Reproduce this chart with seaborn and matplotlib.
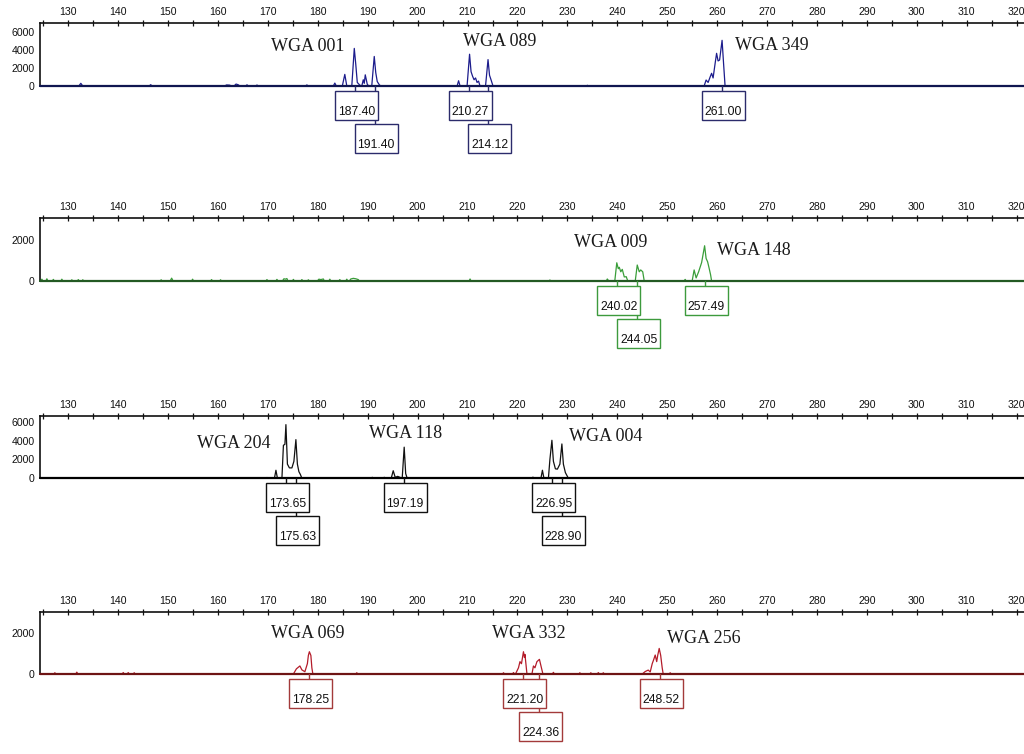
import matplotlib
matplotlib.use("Agg")
import matplotlib.pyplot as plt
from matplotlib.patches import Rectangle
from matplotlib.lines import Line2D
from matplotlib.ticker import MultipleLocator
from matplotlib.transforms import ScaledTranslation
import pandas as pd
import seaborn as sns

# =======================
# DATA
# =======================
X_MIN, X_MAX = 124.33, 321.5

# panel 1 - blue dye
trace1_size = [124.4, 132.1, 132.5, 132.9, 146.2, 146.5, 146.8, 161.3, 161.7, 162.3, 162.8,
               163.2, 163.6, 164.0, 164.4, 165.5, 165.8, 166.1, 167.5, 167.8, 168.1,
               177.5, 177.8, 178.1, 183.1, 183.4, 183.7, 184.9, 185.4, 185.8,
               186.8, 187.3, 187.6, 187.9, 188.4, 188.8, 189.1, 189.3, 189.5, 189.9, 190.2,
               190.8, 191.3, 191.6, 191.9, 192.3, 192.6,
               207.9, 208.2, 208.5, 209.9, 210.4, 210.7, 211.0, 211.3, 211.6, 211.9, 212.2, 212.5,
               213.6, 214.1, 214.4, 214.7, 215.1, 233.8, 234.0, 234.2,
               257.4, 257.8, 258.2, 258.6, 258.9, 259.2, 259.6, 259.9, 260.2, 260.5, 261.0, 261.3, 261.6,
               321.6]
trace1_rfu = [0, 0, 300, 0, 0, 150, 0, 0, 120, 100, 0,
              0, 220, 150, 0, 0, 130, 0, 0, 110, 0,
              0, 120, 0, 0, 330, 0, 0, 1300, 0,
              0, 4200, 2400, 400, 100, 0, 700, 300, 1250, 200, 0,
              0, 3300, 1500, 500, 150, 0,
              0, 590, 0, 0, 3550, 1600, 1100, 700, 900, 400, 550, 0,
              0, 2950, 1200, 700, 0, 0, 80, 0,
              0, 670, 400, 1000, 1420, 900, 2500, 3650, 2800, 2900, 5100, 2500, 0,
              0]
calls1 = [187.40, 191.40, 210.27, 214.12, 261.00]
rows1 = [0, 1, 0, 1, 0]
markers1 = ["WGA 001", "WGA 089", "WGA 349"]
markers1_x = [178.0, 216.5, 271.0]
markers1_y = [4360, 4970, 4470]

# panel 2 - green dye
trace2_size = [124.4, 124.7, 124.9, 125.5, 125.7, 125.9, 126.8, 127.0, 127.2, 128.5, 128.7, 128.9,
               130.5, 130.7, 130.9, 131.8, 132.0, 132.2, 132.7, 132.9, 133.1,
               148.4, 148.6, 148.8, 150.4, 150.7, 151.0, 154.7, 154.9, 155.1, 158.5, 158.7, 158.9,
               160.3, 160.5, 160.7, 169.6, 169.8, 170.0, 171.6, 171.8, 172.0, 172.9, 173.2, 173.5, 173.8, 174.0,
               174.9, 175.1, 175.3, 176.6, 176.8, 177.0, 177.9, 178.1, 178.3,
               179.9, 180.2, 180.6, 181.1, 181.3, 182.2, 182.4, 182.6, 184.2, 184.4, 184.6,
               185.6, 185.8, 186.0, 186.3, 186.6, 187.1, 187.6, 188.1, 188.3,
               210.3, 210.5, 210.7, 226.3, 226.5, 226.7,
               237.8, 238.0, 238.3, 239.5, 239.9, 240.2, 240.4, 240.7, 241.0, 241.4, 241.8, 242.1,
               243.6, 244.0, 244.4, 244.7, 245.1, 245.4, 253.4, 253.6, 253.8,
               255.0, 255.4, 255.8, 256.3, 256.9, 257.5, 257.8, 258.1, 258.4, 258.7, 258.9,
               321.6]
trace2_rfu = [0, 90, 0, 0, 110, 0, 0, 80, 0, 0, 90, 0,
              0, 60, 0, 0, 70, 0, 0, 60, 0,
              0, 60, 0, 0, 140, 0, 0, 90, 0, 0, 70, 0,
              0, 60, 0, 0, 70, 0, 0, 80, 0, 0, 110, 90, 120, 0,
              0, 80, 0, 0, 70, 0, 0, 60, 0,
              0, 90, 70, 100, 0, 0, 90, 0, 0, 70, 0,
              0, 90, 0, 0, 100, 130, 110, 70, 0,
              0, 100, 0, 0, 50, 0,
              0, 100, 0, 0, 890, 600, 670, 450, 570, 200, 210, 0,
              0, 780, 450, 540, 450, 0, 0, 80, 0,
              0, 540, 150, 450, 900, 1720, 1100, 940, 630, 300, 0,
              0]
calls2 = [240.02, 244.05, 257.49]
rows2 = [0, 1, 0]
markers2 = ["WGA 009", "WGA 148"]
markers2_x = [238.6, 267.4]
markers2_y = [1900, 1510]

# panel 3 - black dye
trace3_size = [124.4, 169.5, 169.8, 170.1, 171.3, 171.6, 171.9,
               172.8, 173.1, 173.4, 173.6, 173.9, 174.3, 174.8, 175.2, 175.6, 175.9, 176.2, 176.5, 176.8,
               190.7, 190.9, 191.1, 193.1, 193.3, 193.5,
               194.7, 195.1, 195.5, 196.0, 196.9, 197.3, 197.6, 197.9,
               222.9, 223.1, 223.3, 224.7, 225.0, 225.3,
               226.2, 226.5, 226.9, 227.2, 227.6, 228.0, 228.5, 228.9, 229.2, 229.6, 230.2,
               321.6]
trace3_rfu = [0, 0, 80, 0, 0, 850, 0,
              0, 3500, 3600, 5690, 1500, 1100, 1100, 1800, 4100, 1500, 700, 400, 0,
              0, 100, 0, 0, 100, 0,
              0, 800, 100, 200, 0, 3300, 500, 0,
              0, 120, 0, 0, 850, 0,
              0, 2000, 4030, 1800, 1000, 970, 1500, 3640, 1500, 600, 0,
              0]
calls3 = [173.65, 175.63, 197.19, 226.95, 228.90]
rows3 = [0, 1, 0, 0, 1]
markers3 = ["WGA 204", "WGA 118", "WGA 004"]
markers3_x = [163.2, 197.5, 237.6]
markers3_y = [3740, 4800, 4480]

# panel 4 - red dye
trace4_size = [124.4, 127.1, 127.3, 127.5, 131.5, 131.7, 131.9, 140.8, 141.0, 141.2,
               141.8, 142.0, 142.2, 143.0, 143.2, 143.4,
               175.1, 175.7, 176.4, 176.8, 177.4, 177.9, 178.1, 178.3, 178.6, 178.8, 179.0,
               187.6, 187.8, 188.0, 217.0, 217.2, 217.4, 219.0, 219.2, 219.4,
               219.6, 220.2, 220.5, 220.8, 221.2, 221.4, 221.5, 221.9,
               222.9, 223.2, 223.5, 223.9, 224.4, 224.8, 225.1,
               227.0, 227.2, 227.4, 232.3, 232.5, 232.7, 234.5, 234.7, 234.9, 236.0, 236.2, 236.4,
               237.0, 237.2, 237.4,
               245.0, 245.6, 246.2, 246.6, 247.0, 247.3, 247.6, 247.9, 248.1, 248.4, 248.7, 249.0, 249.2,
               250.4, 250.6, 250.8, 321.6]
trace4_rfu = [0, 0, 60, 0, 0, 90, 0, 0, 70, 0,
              0, 70, 0, 0, 60, 0,
              0, 250, 390, 200, 110, 500, 900, 1080, 900, 300, 0,
              0, 60, 0, 0, 60, 0, 0, 70, 0,
              0, 300, 600, 500, 1080, 800, 950, 0,
              0, 390, 300, 600, 710, 300, 0,
              0, 80, 0, 0, 60, 0, 0, 60, 0, 0, 70, 0,
              0, 60, 0,
              0, 120, 190, 100, 500, 700, 920, 600, 900, 1240, 900, 300, 0,
              0, 60, 0, 0]
calls4 = [178.25, 221.20, 224.36, 248.52]
rows4 = [0, 0, 1, 0]
markers4 = ["WGA 069", "WGA 332", "WGA 256"]
markers4_x = [178.0, 222.3, 257.4]
markers4_y = [1980, 1940, 1740]

# =======================
# LAYOUT / STYLE
# =======================
PANELS = [
    dict(size=trace1_size, rfu=trace1_rfu, calls=calls1, rows=rows1,
         names=markers1, name_x=markers1_x, name_y=markers1_y,
         rect=[0.0391, 0.8859, 0.9609, 0.0832], ymax=7000,
         ymajor=[0, 2000, 4000, 6000], yminor=[1000, 3000, 5000],
         peak="#1c1c8c", base="#101650", box="#2b2b6b"),
    dict(size=trace2_size, rfu=trace2_rfu, calls=calls2, rows=rows2,
         names=markers2, name_x=markers2_x, name_y=markers2_y,
         rect=[0.0391, 0.6273, 0.9609, 0.0832], ymax=3060,
         ymajor=[0, 2000], yminor=[1000, 3000],
         peak="#3a9e3a", base="#235a23", box="#3d9a3d"),
    dict(size=trace3_size, rfu=trace3_rfu, calls=calls3, rows=rows3,
         names=markers3, name_x=markers3_x, name_y=markers3_y,
         rect=[0.0391, 0.3657, 0.9609, 0.0830], ymax=6640,
         ymajor=[0, 2000, 4000, 6000], yminor=[1000, 3000, 5000],
         peak="#111111", base="#000000", box="#111111"),
    dict(size=trace4_size, rfu=trace4_rfu, calls=calls4, rows=rows4,
         names=markers4, name_x=markers4_x, name_y=markers4_y,
         rect=[0.0391, 0.1061, 0.9609, 0.0826], ymax=3020,
         ymajor=[0, 2000], yminor=[1000, 3000],
         peak="#b41c2a", base="#6e1414", box="#a33a3a"),
]


def add_call_box(fig, ax, pos, row, color):
    # size-call box hanging under the baseline, in pixel offsets from the peak
    anchor = ScaledTranslation(pos, 0, ax.transData)
    top = -5 if row == 0 else -38
    height = 29
    fig.add_artist(Line2D([0, 0], [0, top], transform=anchor, color=color, lw=1.0, zorder=3))
    fig.add_artist(Rectangle((-20, top - height), 43, height, transform=anchor,
                             facecolor="white", edgecolor=color, lw=1.0, zorder=4))
    fig.text(1.5, top - height + 8, f"{pos:.2f}", transform=anchor, ha="center", va="center",
             fontsize=8.8, color="#111111", zorder=5)


def draw_panel(fig, p):
    ax = fig.add_axes(p["rect"])
    df = pd.DataFrame({"size": p["size"], "rfu": p["rfu"]})
    sns.lineplot(data=df, x="size", y="rfu", estimator=None, sort=False, ax=ax,
                 color=p["peak"], lw=0.9, clip_on=False, zorder=2)
    ax.axhline(0, color=p["base"], lw=1.6, clip_on=False, zorder=3)

    ax.set_xlim(X_MIN, X_MAX)
    ax.set_ylim(0, p["ymax"])
    ax.set_xlabel("")
    ax.set_ylabel("")

    ax.xaxis.tick_top()
    ax.set_xticks(range(130, 321, 10))
    ax.xaxis.set_minor_locator(MultipleLocator(5))
    ax.set_yticks(p["ymajor"])
    ax.set_yticks(p["yminor"], minor=True)
    ax.tick_params(axis="both", which="both", direction="inout", length=4.5, width=0.9,
                   labelsize=7.6, color="#111111", labelcolor="#111111")
    ax.tick_params(axis="x", pad=2)
    ax.tick_params(axis="y", pad=1.5)

    for side in ["bottom", "right"]:
        ax.spines[side].set_visible(False)
    for side in ["left", "top"]:
        ax.spines[side].set_linewidth(1.2)
        ax.spines[side].set_color("#111111")
    ax.patch.set_alpha(0)

    for name, nx, ny in zip(p["names"], p["name_x"], p["name_y"]):
        ax.text(nx, ny, name, ha="center", va="center", fontsize=13,
                family=["Liberation Serif", "DejaVu Serif"], color="#1a1a1a")

    for pos, row in zip(p["calls"], p["rows"]):
        add_call_box(fig, ax, pos, row, p["box"])
    return ax


def main():
    sns.set_style("white")
    plt.rcParams["font.family"] = ["Liberation Sans", "DejaVu Sans"]

    fig = plt.figure(figsize=(10.24, 7.54), dpi=100)
    fig.patch.set_facecolor("white")
    for p in PANELS:
        draw_panel(fig, p)

    fig.savefig("out.png", dpi=100, facecolor="white")
    plt.close(fig)


if __name__ == "__main__":
    main()
